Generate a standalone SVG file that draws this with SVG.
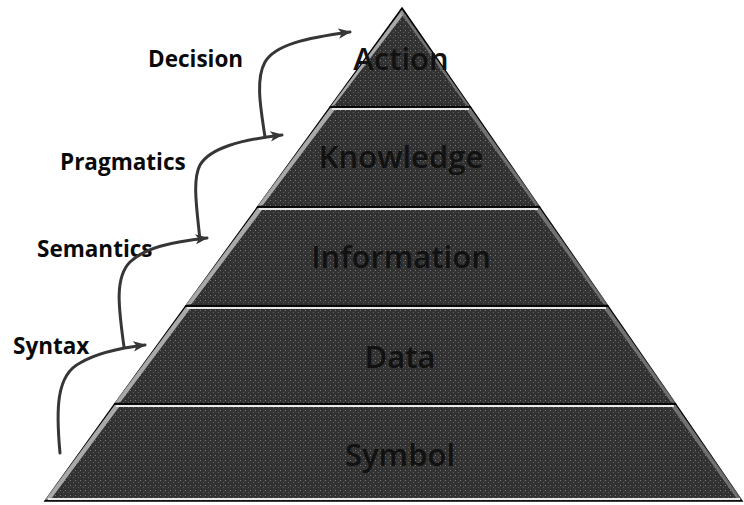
<svg xmlns="http://www.w3.org/2000/svg" width="744" height="505" viewBox="0 0 744 505">
<style>
.lbl{font-family:"Open Sans","Liberation Sans",sans-serif;font-weight:bold;font-size:22.5px;fill:#0a0a0a}
.lvl{font-family:"Open Sans","Liberation Sans",sans-serif;font-weight:600;font-size:31px;fill:#111;text-anchor:middle}
.band{fill:url(#tex);stroke:#000;stroke-width:1.5}
.hi{stroke:#e8e8e8;stroke-width:2;fill:none}
.edge{fill:#bdbdbd;opacity:0.85}
.redge{fill:#8a8a8a;opacity:0.7}
.arr{fill:none;stroke:#363636;stroke-width:3;stroke-linecap:round;marker-end:url(#ah)}
</style>
<defs>
<pattern id="tex" width="5" height="5" patternUnits="userSpaceOnUse">
<rect width="5" height="5" fill="#333"/>
<rect x="0" y="0" width="1" height="1" fill="#7a7a7a"/>
<rect x="3" y="2" width="1" height="1" fill="#5e5e5e"/>
<rect x="1" y="4" width="1" height="1" fill="#222"/>
</pattern>
<marker id="ah" viewBox="0 0 10 8" markerWidth="4.3" markerHeight="3.5" refX="9" refY="4" orient="auto" markerUnits="strokeWidth">
<path d="M0,0 L10,4 L0,8 L2.5,4 z" fill="#363636"/>
</marker>
</defs>
<rect width="744" height="505" fill="#fff"/>
<g id="band-action">
<polygon class="band" points="402,8 470.4,107 330.2,107"/>
<polygon class="edge" points="402,10 404,14 334.5,105 330.2,107"/>
<polygon class="redge" points="402,10 470.4,107 466,105 400,12"/>
<text class="lvl" x="401" y="70">Action</text>
</g>
<g id="band-knowledge">
<polygon class="band" points="330.2,107 470.4,107 539.5,207 257.6,207"/>
<polygon class="edge" points="330.2,108 336,108 263,205 257.6,206"/>
<polygon class="redge" points="470.4,108 539.5,206 535,205 466,109"/>
<line class="hi" x1="332" y1="109" x2="469" y2="109"/>
<text class="lvl" x="401" y="168">Knowledge</text>
</g>
<g id="band-information">
<polygon class="band" points="257.6,207 539.5,207 607.9,306 185.8,306"/>
<polygon class="edge" points="257.6,208 263.5,208 191.5,304 185.8,305"/>
<polygon class="redge" points="539.5,208 607.9,305 603.4,304 535,209"/>
<line class="hi" x1="259" y1="209" x2="538" y2="209"/>
<text class="lvl" x="401" y="268">Information</text>
</g>
<g id="band-data">
<polygon class="band" points="185.8,306 607.9,306 675.6,404 114.7,404"/>
<polygon class="edge" points="185.8,307 191.5,307 120.5,402 114.7,403"/>
<polygon class="redge" points="607.9,307 675.6,403 671,402 603.4,308"/>
<line class="hi" x1="187" y1="308" x2="606" y2="308"/>
<text class="lvl" x="400" y="368">Data</text>
</g>
<g id="band-symbol">
<polygon class="band" points="114.7,404 675.6,404 742,501 45,501"/>
<polygon class="edge" points="114.7,405 120.5,405 51,499 45,500"/>
<polygon class="redge" points="675.6,405 742,500 737,499 671,406"/>
<line class="hi" x1="116" y1="406" x2="674" y2="406"/>
<line class="hi" x1="48" y1="499" x2="740" y2="499"/>
<text class="lvl" x="400" y="466">Symbol</text>
</g>
<g id="labels">
<text class="lbl" x="148" y="67">Decision</text>
<text class="lbl" x="60" y="170">Pragmatics</text>
<text class="lbl" x="37" y="257">Semantics</text>
<text class="lbl" x="13" y="354">Syntax</text>
</g>
<g id="connectors">
<path class="arr" d="M60,453 C56,410 56,375 80,363 C95,354 120,348 145,345"/>
<path class="arr" d="M124,347 C119,310 114,278 130,262 C145,248 170,242 207,238"/>
<path class="arr" d="M200,240 C197,210 192,180 200,165 C210,148 240,140 282,135"/>
<path class="arr" d="M265,137 C261,110 255,80 265,62 C275,45 305,38 350,32"/>
</g>
</svg>
